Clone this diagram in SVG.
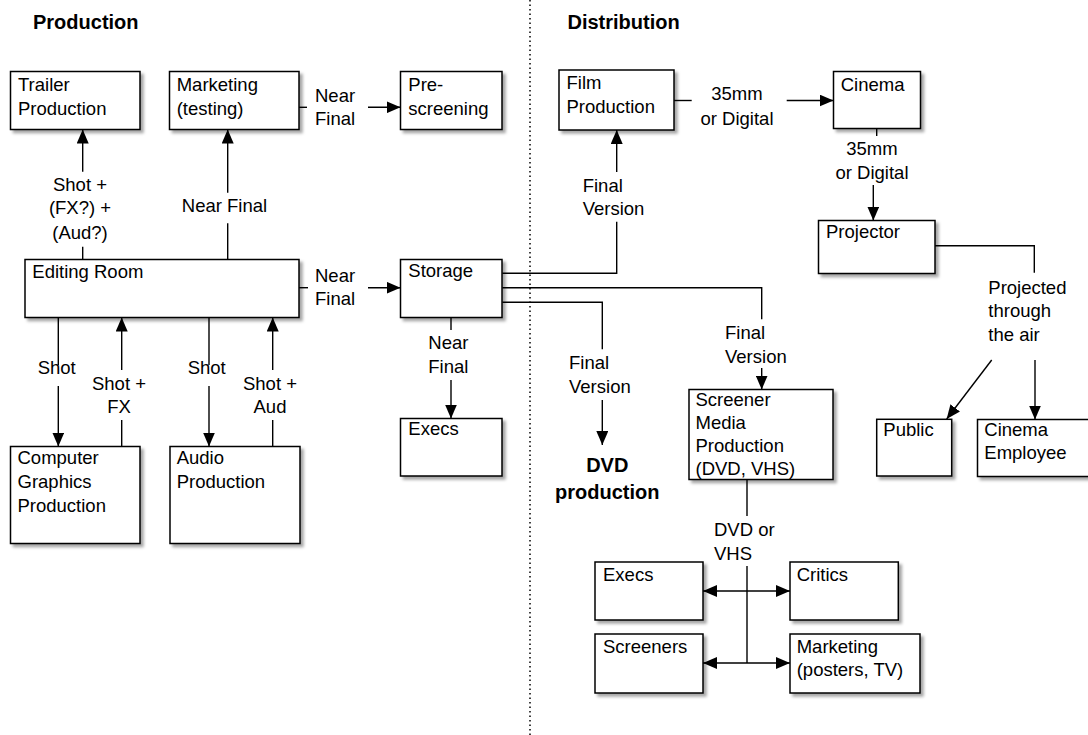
<svg xmlns="http://www.w3.org/2000/svg" width="1088" height="735" viewBox="0 0 1088 735">
<defs>
<filter id="sh" x="-10%" y="-10%" width="130%" height="130%">
<feDropShadow dx="3" dy="3" stdDeviation="1.5" flood-color="#000" flood-opacity="0.35"/>
</filter>
<marker id="ah" viewBox="0 0 14 12" refX="14" refY="6" markerWidth="14" markerHeight="12" markerUnits="userSpaceOnUse" orient="auto-start-reverse">
<path d="M0,0 L14,6 L0,12 z" fill="#000"/>
</marker>
<style>
.box{fill:#fff;stroke:#000;stroke-width:1.5;filter:url(#sh)}
.t{font-family:"Liberation Sans",Arial,sans-serif;font-size:18.5px;fill:#000}
.c{text-anchor:middle}
.b{font-family:"Liberation Sans",Arial,sans-serif;font-size:20px;font-weight:bold;fill:#000}
.ln{fill:none;stroke:#000;stroke-width:1.4}
.ar{fill:none;stroke:#000;stroke-width:1.4;marker-end:url(#ah)}
</style>
</defs>
<rect width="1088" height="735" fill="#fff"/>
<line x1="530" y1="0" x2="530" y2="735" stroke="#000" stroke-width="1.5" stroke-dasharray="1.5 3"/>
<text class="b" x="33" y="29">Production</text>
<text class="b" x="567.5" y="29">Distribution</text>

<g id="connectors">
<path class="ln" d="M82.7,259.5 V246.7"/><path class="ar" d="M82.7,171.7 V129.5"/>
<path class="ln" d="M227.7,259.5 V223.3"/><path class="ar" d="M227.7,192.7 V129.5"/>
<path class="ln" d="M299,107.3 H307"/><path class="ar" d="M368,107.3 H400.5"/>
<path class="ln" d="M299,287.7 H308"/><path class="ar" d="M368,287.7 H400.5"/>
<path class="ln" d="M451,317.5 V330"/><path class="ar" d="M451,380 V418.5"/>
<path class="ln" d="M58.3,317.5 V365"/><path class="ar" d="M58.3,386 V446.5"/>
<path class="ln" d="M121.7,446.5 V420"/><path class="ar" d="M121.7,370 V317.5"/>
<path class="ln" d="M209,317.5 V365"/><path class="ar" d="M209,386 V446.5"/>
<path class="ln" d="M272.7,446.5 V420"/><path class="ar" d="M272.7,370 V317.5"/>
<path class="ln" d="M502.3,273.3 H616.7 V221.7"/><path class="ar" d="M616.7,172 V130"/>
<path class="ln" d="M502.3,287.7 H761.7 V319.3"/><path class="ar" d="M761.7,368 V389.5"/>
<path class="ln" d="M502.3,302.3 H602.3 V349.3"/><path class="ar" d="M602.3,400 V445"/>
<path class="ln" d="M674,100.5 H691.7"/><path class="ar" d="M786.7,100.5 H833.5"/>
<path class="ln" d="M876.7,128.5 V136"/><path class="ar" d="M873.3,185 V220.5"/>
<path class="ln" d="M935,245.7 H1034.3 V272.7"/>
<path class="ar" d="M991.7,360 L946.7,419"/>
<path class="ar" d="M1035,360 V419.5"/>
<path class="ln" d="M747,479.5 V516"/>
<path class="ln" d="M747,566 V663"/>
<path class="ar" d="M747,591 H703"/><path class="ar" d="M747,591 H790"/>
<path class="ar" d="M747,663 H703"/><path class="ar" d="M747,663 H790"/>
</g>

<g id="labels">
<text class="t c" x="80" y="190.7">Shot +</text>
<text class="t c" x="80" y="214">(FX?) +</text>
<text class="t c" x="80" y="239.3">(Aud?)</text>
<text class="t c" x="224.5" y="211.7">Near Final</text>
<text class="t" x="315" y="101.7">Near</text>
<text class="t" x="315" y="125">Final</text>
<text class="t" x="315" y="281.7">Near</text>
<text class="t" x="315" y="305">Final</text>
<text class="t" x="428.3" y="349.3">Near</text>
<text class="t" x="428.3" y="373.3">Final</text>
<text class="t c" x="56.7" y="374">Shot</text>
<text class="t c" x="119" y="390">Shot +</text>
<text class="t c" x="119" y="413.3">FX</text>
<text class="t c" x="206.7" y="374">Shot</text>
<text class="t c" x="270" y="390">Shot +</text>
<text class="t c" x="270" y="413.3">Aud</text>
<text class="t" x="582.7" y="191.7">Final</text>
<text class="t" x="582.7" y="215">Version</text>
<text class="t" x="725" y="339.3">Final</text>
<text class="t" x="725" y="362.7">Version</text>
<text class="t" x="569" y="369.3">Final</text>
<text class="t" x="569" y="392.7">Version</text>
<text class="b c" x="607.3" y="471.7">DVD</text>
<text class="b c" x="607.3" y="499.3">production</text>
<text class="t c" x="737" y="99.6">35mm</text>
<text class="t c" x="737" y="125">or Digital</text>
<text class="t c" x="872" y="155">35mm</text>
<text class="t c" x="872" y="179">or Digital</text>
<text class="t" x="988.3" y="294">Projected</text>
<text class="t" x="988.3" y="317.3">through</text>
<text class="t" x="988.3" y="340.7">the air</text>
<text class="t" x="714" y="535.7">DVD or</text>
<text class="t" x="714" y="560">VHS</text>
</g>

<g id="trailer"><rect class="box" x="10.5" y="71.5" width="129.5" height="58"/><text class="t" x="18" y="90.7">Trailer</text><text class="t" x="18" y="114.7">Production</text></g>
<g id="marketing-testing"><rect class="box" x="169.5" y="71.5" width="129.5" height="58"/><text class="t" x="176.7" y="90.7">Marketing</text><text class="t" x="176.7" y="114.7">(testing)</text></g>
<g id="prescreening"><rect class="box" x="400.5" y="71.5" width="101.5" height="58"/><text class="t" x="408.3" y="90.7">Pre-</text><text class="t" x="408.3" y="114.7">screening</text></g>
<g id="editing-room"><rect class="box" x="25" y="259.5" width="274" height="58"/><text class="t" x="32.3" y="277.7">Editing Room</text></g>
<g id="storage"><rect class="box" x="400.5" y="259.5" width="101.5" height="58"/><text class="t" x="408.3" y="277">Storage</text></g>
<g id="execs-production"><rect class="box" x="400.5" y="418.5" width="101.5" height="57.5"/><text class="t" x="408.3" y="435">Execs</text></g>
<g id="cg-production"><rect class="box" x="10.5" y="446.5" width="129.5" height="97"/><text class="t" x="17.5" y="464.3">Computer</text><text class="t" x="17.5" y="487.8">Graphics</text><text class="t" x="17.5" y="511.8">Production</text></g>
<g id="audio-production"><rect class="box" x="170" y="446.5" width="130" height="97"/><text class="t" x="176.7" y="464.3">Audio</text><text class="t" x="176.7" y="488">Production</text></g>
<g id="film-production"><rect class="box" x="559" y="70" width="115" height="60"/><text class="t" x="566.5" y="89.3">Film</text><text class="t" x="566.5" y="113.3">Production</text></g>
<g id="cinema"><rect class="box" x="833.5" y="71.5" width="87" height="57"/><text class="t" x="840.7" y="90.7">Cinema</text></g>
<g id="projector"><rect class="box" x="818.5" y="220.5" width="116.5" height="53"/><text class="t" x="826" y="238.3">Projector</text></g>
<g id="screener-media"><rect class="box" x="689" y="389.5" width="144" height="90"/><text class="t" x="695.5" y="405.5">Screener</text><text class="t" x="695.5" y="428.8">Media</text><text class="t" x="695.5" y="452">Production</text><text class="t" x="695.5" y="475.3">(DVD, VHS)</text></g>
<g id="public"><rect class="box" x="876.7" y="419.3" width="75" height="56.7"/><text class="t" x="883.3" y="436">Public</text></g>
<g id="cinema-employee"><rect class="box" x="977.5" y="419.5" width="120" height="57"/><text class="t" x="984.3" y="436">Cinema</text><text class="t" x="984.3" y="459">Employee</text></g>
<g id="execs-distribution"><rect class="box" x="595" y="562" width="108" height="58"/><text class="t" x="603" y="581">Execs</text></g>
<g id="critics"><rect class="box" x="790" y="562" width="108.3" height="58"/><text class="t" x="796.7" y="581">Critics</text></g>
<g id="screeners"><rect class="box" x="595" y="634" width="108" height="59"/><text class="t" x="603" y="652.7">Screeners</text></g>
<g id="marketing-posters"><rect class="box" x="790" y="634" width="130" height="59"/><text class="t" x="796.7" y="652.7">Marketing</text><text class="t" x="796.7" y="676">(posters, TV)</text></g>
</svg>
